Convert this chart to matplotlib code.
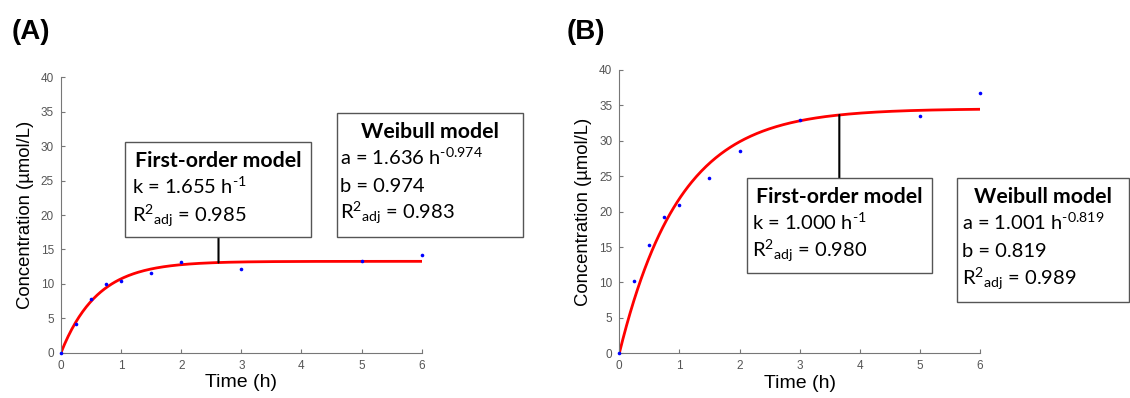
import matplotlib
matplotlib.use('Agg')
import matplotlib.pyplot as plt
import numpy as np
from matplotlib.patches import Rectangle, ConnectionPatch

# measured data
time_h = [0, 0.25, 0.5, 0.75, 1, 1.5, 2, 3, 5, 6]
conc_a = [0, 4.16, 7.75, 9.93, 10.46, 11.62, 13.12, 12.10, 13.37, 14.19]
conc_b = [0, 10.16, 15.25, 19.29, 20.94, 24.70, 28.56, 32.90, 33.50, 36.80]

# first-order fit parameters (k from the chart, plateau)
k_a, c0_a = 1.655, 13.27
k_b, c0_b = 1.000, 34.54

W, H = 1130, 398
plt.rcParams['mathtext.fontset'] = 'custom'
plt.rcParams['mathtext.rm'] = 'Lato'
plt.rcParams['mathtext.it'] = 'Lato:italic'
plt.rcParams['mathtext.bf'] = 'Lato:bold'

fig = plt.figure(figsize=(W / 100, H / 100), dpi=100)

def fx(x):
    return x / W

def fy(y):
    return 1 - y / H

gray = '#777777'
ax_a = fig.add_axes([fx(61), fy(352.7), fx(421.7 - 61), (352.7 - 77.3) / H])
ax_b = fig.add_axes([fx(619.3), fy(353.3), fx(980 - 619.3), (353.3 - 70) / H])

t = np.linspace(0, 6, 300)
for ax, conc, k, c0 in [(ax_a, conc_a, k_a, c0_a), (ax_b, conc_b, k_b, c0_b)]:
    ax.plot(t, c0 * (1 - np.exp(-k * t)), color='red', lw=2, zorder=2)
    ax.plot(time_h, conc, 'o', color='blue', ms=2.6, mec='none', zorder=3, clip_on=False)
    ax.set_xlim(0, 6)
    ax.set_ylim(0, 40)
    ax.set_xticks(range(7))
    ax.set_yticks(range(0, 41, 5))
    for s in ['top', 'right']:
        ax.spines[s].set_visible(False)
    for s in ['left', 'bottom']:
        ax.spines[s].set_color(gray)
        ax.spines[s].set_linewidth(0.8)
    ax.tick_params(direction='in', length=3, color=gray, labelcolor='#555555',
                   labelsize=8.5, pad=5)
    for lab in ax.get_xticklabels() + ax.get_yticklabels():
        lab.set_fontfamily('Liberation Sans')
    ax.set_xlabel('Time (h)', fontsize=14, family='Liberation Sans', labelpad=2)
    ax.set_ylabel('Concentration (µmol/L)', fontsize=13.3, family='Liberation Sans', labelpad=5)

fig.text(fx(12), fy(39), '(A)', fontsize=20, weight='bold', family='Liberation Sans', va='baseline')
fig.text(fx(567), fy(39), '(B)', fontsize=20, weight='bold', family='Liberation Sans', va='baseline')

def box(x0, y0, x1, y1, title, lines, title_base, line_bases, text_x):
    fig.patches.append(Rectangle((fx(x0), fy(y1)), fx(x1 - x0), (y1 - y0) / H,
                                 transform=fig.transFigure, fill=True, fc='white',
                                 ec='#555555', lw=1.0, zorder=5))
    fig.text(fx((x0 + x1) / 2), fy(title_base), title, fontsize=15.3, weight='bold',
             family='Lato', ha='center', va='baseline', zorder=6)
    for s, yb in zip(lines, line_bases):
        fig.text(fx(text_x), fy(yb), s, fontsize=14.5, family='Lato',
                 ha='left', va='baseline', zorder=6)

r2 = r'R$^{2}{}_{\mathrm{adj}}$'
box(125.3, 142, 311.3, 236.7, 'First-order model',
    [r'k = 1.655 h$^{\text{-1}}$', r2 + ' = 0.985'],
    167, [194, 221.5], 132)
box(337.3, 113.3, 523.3, 236.7, 'Weibull model',
    [r'a = 1.636 h$^{\text{-0.974}}$', 'b = 0.974', r2 + ' = 0.983'],
    138.3, [165, 191.7, 218.3], 340)
box(746.7, 178.3, 932.3, 273.3, 'First-order model',
    [r'k = 1.000 h$^{\text{-1}}$', r2 + ' = 0.980'],
    203.3, [230, 256.7], 752)
box(957.3, 178.3, 1129, 301.7, 'Weibull model',
    [r'a = 1.001 h$^{\text{-0.819}}$', 'b = 0.819', r2 + ' = 0.989'],
    203.3, [230, 257.3, 285], 961.5)

# connector lines from the fitted curve to the first-order boxes
for ax, k, c0, tc, ytop in [(ax_a, k_a, c0_a, 2.62, 236.7), (ax_b, k_b, c0_b, 3.66, 178.3)]:
    xa = ax.transData.transform((tc, 0))[0] / W
    con = ConnectionPatch(xyA=(tc, c0 * (1 - np.exp(-k * tc))), coordsA=ax.transData,
                          xyB=(xa, fy(ytop)), coordsB=fig.transFigure,
                          color='black', lw=1.5, zorder=4)
    fig.add_artist(con)

fig.savefig('out.png', dpi=100)
